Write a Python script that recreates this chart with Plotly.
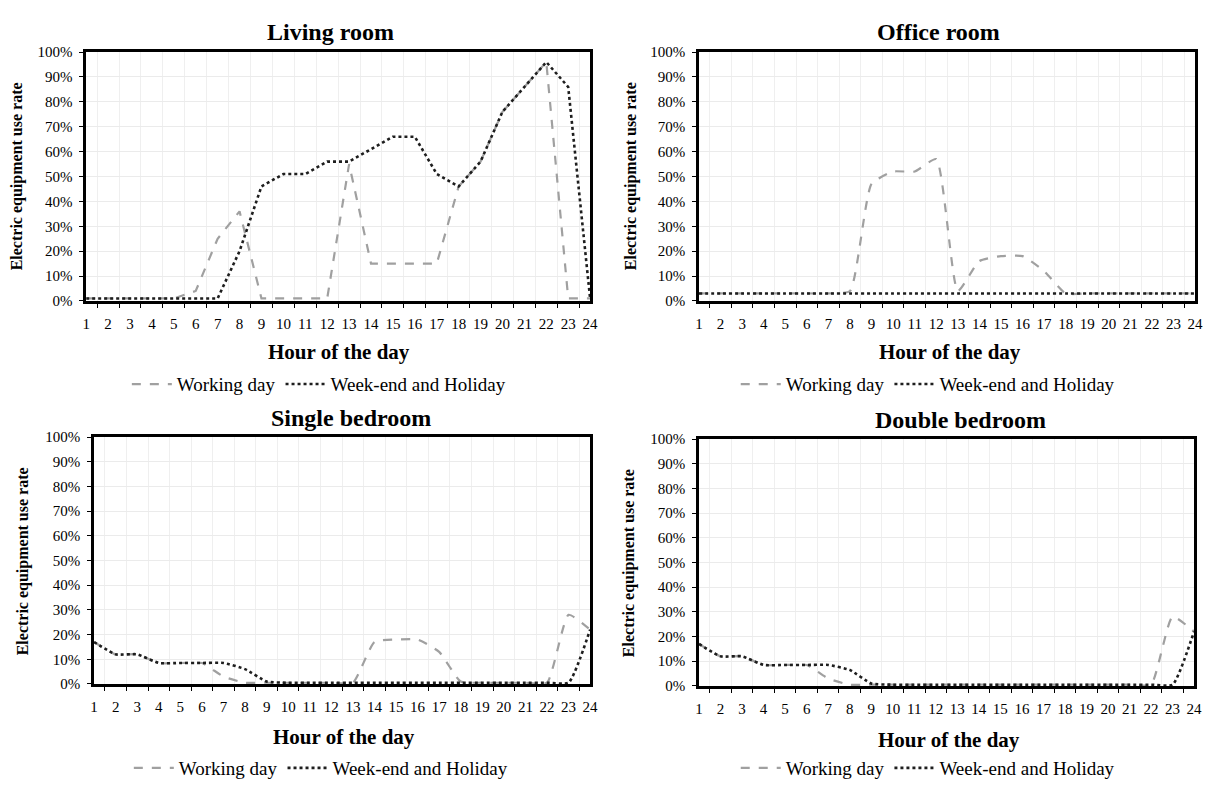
import plotly.graph_objects as go

hours = [str(h) for h in range(1, 25)]

living_work = [1, 1, 1, 1, 1, 4, 25, 36, 1, 1, 1, 1, 55, 15, 15, 15, 15, 46, 56, 76, 86, 96, 1, 1]
living_wend = [1, 1, 1, 1, 1, 1, 1, 20, 46, 51, 51, 56, 56, 61, 66, 66, 51, 46, 56, 76, 86, 96, 86, 1]

office_work = [3, 3, 3, 3, 3, 3, 3, 4, 47, 52, 52, 57, 4, 16, 18, 18, 12, 3, 3, 3, 3, 3, 3, 3]
office_wend = [3] * 24

single_work = [17, 12, 12, 8.5, 8.5, 8.5, 3, 0.5, 0.5, 0.5, 0.5, 0.5, 0.5, 17, 18, 18, 13, 1, 0.5, 0.5, 0.5, 0.5, 28, 22]
single_wend = [17, 12, 12, 8.5, 8.5, 8.5, 8.5, 6, 1, 0.5, 0.5, 0.5, 0.5, 0.5, 0.5, 0.5, 0.5, 0.5, 0.5, 0.5, 0.5, 0.5, 0.5, 22]

double_work = [17, 12, 12, 8.5, 8.5, 8.5, 3, 0.5, 0.5, 0.5, 0.5, 0.5, 0.5, 0.5, 0.5, 0.5, 0.5, 0.5, 0.5, 0.5, 0.5, 0.5, 28, 22]
double_wend = [17, 12, 12, 8.5, 8.5, 8.5, 8.5, 6.5, 1, 0.5, 0.5, 0.5, 0.5, 0.5, 0.5, 0.5, 0.5, 0.5, 0.5, 0.5, 0.5, 0.5, 0.5, 22]

titles = ["Living room", "Office room", "Single bedroom", "Double bedroom"]
work_series = [living_work, office_work, single_work, double_work]
wend_series = [living_wend, office_wend, single_wend, double_wend]
series_names = ["Working day", "Week-end and Holiday"]
y_title = "Electric equipment use rate"
x_title = "Hour of the day"
ytick_vals = list(range(0, 101, 10))
ytick_text = [f"{v}%" for v in ytick_vals]

W, H = 1208, 787
FONT = "Liberation Serif"

# panel pixel boxes: left, right, top, bottom
boxes = [(83, 592, 45, 299), (702, 1203, 45, 299), (91, 592, 438, 690), (702, 1202, 440, 692)]
title_pos = [(330, 24), (944, 24), (350, 418), (966, 421)]
xtitle_pos = [(338, 351), (955, 351), (343, 744), (954, 747)]
ytitle_pos = [(13, 172), (633, 172), (19, 565), (632, 567)]
legend_pos = [(318, 384), (933, 384), (320, 776), (933, 776)]
shapes_line = ["linear", "spline", "spline", "spline"]

fig = go.Figure()
annotations = []
layout = {}
for i in range(4):
    n = "" if i == 0 else str(i + 1)
    xa, ya = "x" + n, "y" + n
    lg = "legend" + n
    l, r, t, b = boxes[i]
    fig.add_trace(go.Scatter(
        x=hours, y=work_series[i], mode="lines", name=series_names[0],
        line=dict(color="#a0a0a0", width=2.2, dash="dash", shape=shapes_line[i], smoothing=0.5),
        xaxis=xa, yaxis=ya, legend=lg))
    fig.add_trace(go.Scatter(
        x=hours, y=wend_series[i], mode="lines", name=series_names[1],
        line=dict(color="#1e1e1e", width=2.6, dash="dot", shape=shapes_line[i], smoothing=0.5),
        xaxis=xa, yaxis=ya, legend=lg))
    layout["xaxis" + n] = dict(
        domain=[l / W, r / W], anchor=ya, type="category", tickson="boundaries",
        showgrid=True, gridcolor="#efefef", gridwidth=1, tickangle=0,
        showline=True, linecolor="black", linewidth=2.5, mirror=True,
        ticks="outside", ticklen=4, tickcolor="black", ticklabelstandoff=7,
        tickfont=dict(family=FONT, size=15, color="black"), fixedrange=True)
    layout["yaxis" + n] = dict(
        domain=[1 - b / H, 1 - t / H], anchor=xa, range=[0, 100],
        tickvals=ytick_vals, ticktext=ytick_text,
        showgrid=True, gridcolor="#ebebeb", gridwidth=1, zeroline=False,
        showline=True, linecolor="black", linewidth=2.5, mirror=True,
        ticks="outside", ticklen=4, tickcolor="black", ticklabelstandoff=4,
        tickfont=dict(family=FONT, size=15, color="black"), fixedrange=True)
    lx, ly = legend_pos[i]
    layout[lg] = dict(
        x=lx / W, y=1 - ly / H, xanchor="center", yanchor="middle",
        orientation="h", font=dict(family=FONT, size=19, color="black"),
        bgcolor="rgba(0,0,0,0)", itemwidth=40, tracegroupgap=0)
    tx, ty = title_pos[i]
    annotations.append(dict(text=f"<b>{titles[i]}</b>", x=tx / W, y=1 - ty / H, xref="paper", yref="paper",
                            showarrow=False, xanchor="center", yanchor="middle",
                            font=dict(family=FONT, size=24, color="black")))
    hx, hy = xtitle_pos[i]
    annotations.append(dict(text=f"<b>{x_title}</b>", x=hx / W, y=1 - hy / H, xref="paper", yref="paper",
                            showarrow=False, xanchor="center", yanchor="middle",
                            font=dict(family=FONT, size=21, color="black")))
    vx, vy = ytitle_pos[i]
    annotations.append(dict(text=f"<b>{y_title}</b>", x=vx / W, y=1 - vy / H, xref="paper", yref="paper",
                            showarrow=False, xanchor="center", yanchor="middle", textangle=-90,
                            font=dict(family=FONT, size=16, color="black")))

fig.update_layout(
    width=W, height=H, margin=dict(l=0, r=0, t=0, b=0),
    font=dict(family=FONT, color="black"),
    paper_bgcolor="white", plot_bgcolor="white",
    showlegend=True, annotations=annotations, **layout)

fig.write_html("out.html", config={"displayModeBar": False})
